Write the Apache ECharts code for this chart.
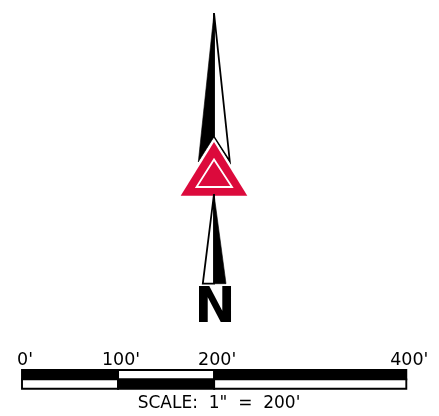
<!DOCTYPE html>
<html><head><meta charset="utf-8">
<style>html,body{margin:0;padding:0;background:#fff}#c{width:439px;height:416px}</style>
<script src="https://cdn.jsdelivr.net/npm/echarts@6/dist/echarts.min.js"></script>
</head><body><div id="c"></div>
<script>
// scale bar, in feet
const scaleTicks = [0, 100, 200, 400];
const topRow = [[0, 100, '#000'], [100, 200, '#fff'], [200, 400, '#000']];
const bottomRow = [[0, 100, '#fff'], [100, 200, '#000'], [200, 400, '#fff']];
const caption = 'SCALE:  1"  =  200\'';
const northLetter = 'N';
// north arrow outlines
const upperBlack = [[214, 13], [198.3, 162], [214, 137]];
const upperWhite = [[214, 13], [229.8, 161.5], [214, 137]];
const lowerWhite = [[214, 194], [202.8, 283.7], [214, 283.7]];
const lowerBlack = [[214, 194], [226, 283.7], [214, 283.7]];
const halo = [[214, 138], [177, 197], [251, 197]];
const redTriangle = [[214, 142], [180.7, 195.7], [247.3, 195.7]];
const innerTriangle = [[214, 159.5], [196.5, 187], [232, 187]];
const RED = '#DC0A3C';
const shapes = [
  [upperWhite, '#fff', '#000', 1.8],
  [upperBlack, '#000', '#000', 0.6],
  [halo, '#fff', null, 0],
  [redTriangle, RED, null, 0],
  [innerTriangle, RED, '#fff', 1.8],
  [lowerWhite, '#fff', '#000', 1.8],
  [lowerBlack, '#000', '#000', 0.6]
];
const chart = echarts.init(document.getElementById('c'), null, {renderer: 'canvas'});
const font = '"DejaVu Sans", sans-serif';
chart.setOption({
  animation: false,
  backgroundColor: '#fff',
  title: [
    {text: caption, left: 214, top: 390, textAlign: 'center',
     textStyle: {fontFamily: font, fontSize: 17, fontWeight: 'normal', color: '#000'}},
    {text: northLetter, left: 210, top: 280, textAlign: 'center',
     textStyle: {fontFamily: font, fontSize: 49, fontWeight: 'bold', color: '#000'}}
  ],
  grid: [
    {left: 0, top: 0, width: 439, height: 416},
    {left: 22, top: 370, width: 384.3, height: 18.8}
  ],
  xAxis: [
    {gridIndex: 0, type: 'value', min: 0, max: 439, show: false},
    {gridIndex: 1, type: 'value', min: 0, max: 400, position: 'top',
     axisLine: {show: false}, axisTick: {show: false}, splitLine: {show: false},
     axisLabel: {customValues: scaleTicks, formatter: v => v + "'", margin: 1, padding: [0, 0, 0, 6],
       fontFamily: font, fontSize: 17.5, color: '#000', hideOverlap: false}}
  ],
  yAxis: [
    {gridIndex: 0, type: 'value', min: 0, max: 416, inverse: true, show: false},
    {gridIndex: 1, type: 'value', min: 0, max: 2, inverse: true, show: false}
  ],
  series: [
    {type: 'custom', xAxisIndex: 0, yAxisIndex: 0, clip: false, silent: true,
     data: shapes.map((s, i) => [i]),
     renderItem(p, api) {
       const s = shapes[api.value(0)];
       return {type: 'polygon', shape: {points: s[0].map(q => api.coord(q))},
         style: {fill: s[1], stroke: s[2], lineWidth: s[3], lineJoin: 'miter'}};
     }},
    {type: 'custom', xAxisIndex: 1, yAxisIndex: 1, clip: false, silent: true,
     data: [...topRow.map(r => [r[0], r[1], 0, r[2]]), ...bottomRow.map(r => [r[0], r[1], 1, r[2]])],
     renderItem(p, api) {
       const a = api.coord([api.value(0), api.value(2)]);
       const b = api.coord([api.value(1), api.value(2) + 1]);
       const row = api.value(2) === 0 ? topRow : bottomRow;
       const idx = p.dataIndex % 3;
       return {type: 'rect', shape: {x: a[0], y: a[1], width: b[0] - a[0], height: b[1] - a[1]},
         style: {fill: row[idx][2], stroke: '#000', lineWidth: 1.9}};
     }}
  ]
});
</script></body></html>
